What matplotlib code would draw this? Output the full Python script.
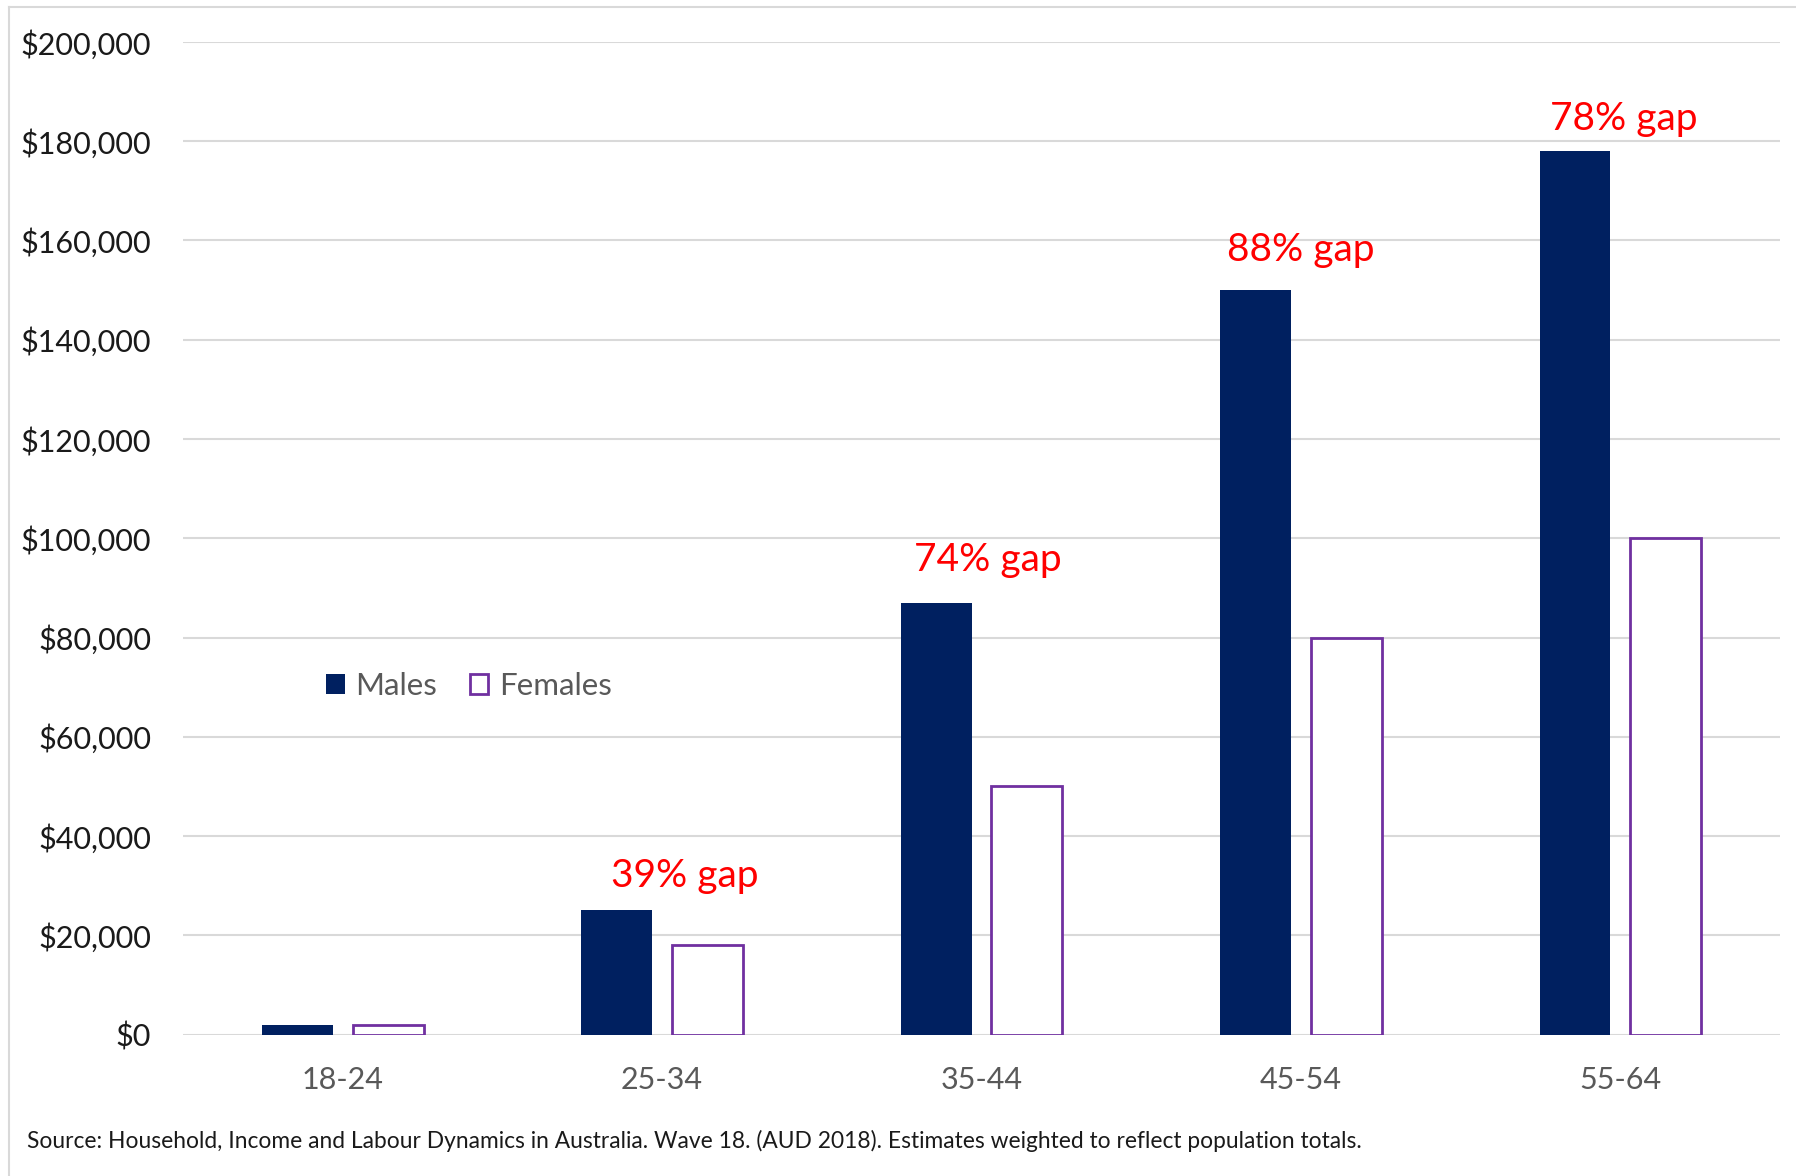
"""
Superannuation balances by age group and sex, with the male/female gap.
"""

import matplotlib.pyplot as plt
import numpy as np
from matplotlib.lines import Line2D
from matplotlib.patches import Patch
from matplotlib.ticker import FuncFormatter

plt.rcParams["font.family"] = ["Lato", "DejaVu Sans"]

# Data
age_groups = ["18-24", "25-34", "35-44", "45-54", "55-64"]
males = [2000, 25000, 87000, 150000, 178000]
females = [2000, 18000, 50000, 80000, 100000]
gap_labels = ["", "39% gap", "74% gap", "88% gap", "78% gap"]
source_note = (
    "Source: Household, Income and Labour Dynamics in Australia. Wave 18. "
    "(AUD 2018). Estimates weighted to reflect population totals."
)

navy = "#002060"
purple = "#7030A0"
grid_grey = "#d9d9d9"

fig = plt.figure(figsize=(17.96, 11.76), dpi=100)
ax = fig.add_axes([0.1019, 0.1203, 0.8892, 0.844])

x = np.arange(len(age_groups))
width = 0.222
offset = 0.142

ax.bar(x - offset, males, width, color=navy, zorder=3, label="Males")
ax.bar(x + offset, females, width, facecolor="white", edgecolor=purple,
       linewidth=2.0, zorder=3, label="Females")

# gap labels sit just above the male bar
label_dx = [0, 0.07, 0.02, 0.0, 0.01]
label_dy = [0, 4800, 6500, 5800, 4200]
for i, txt in enumerate(gap_labels):
    if not txt:
        continue
    ax.text(x[i] + label_dx[i], males[i] + label_dy[i], txt, color="#ff0000",
            fontsize=28, ha="center", va="baseline", zorder=4)

ax.set_xlim(-0.5, len(age_groups) - 0.5)
ax.set_ylim(0, 200000)
ax.set_yticks(np.arange(0, 200001, 20000))
ax.yaxis.set_major_formatter(FuncFormatter(lambda v, p: "${:,.0f}".format(v)))
ax.set_xticks(x)
ax.set_xticklabels(age_groups)

ax.grid(axis="y", color=grid_grey, linewidth=1.5, zorder=0)
ax.set_axisbelow(True)
for s in ax.spines.values():
    s.set_visible(False)
ax.tick_params(axis="y", length=0, pad=23, labelsize=22, labelcolor="#1a1a1a")
ax.tick_params(axis="x", length=0, pad=22.5, labelsize=22, labelcolor="#595959")

handles = [Patch(facecolor=navy, edgecolor=navy, linewidth=0),
           Patch(facecolor="white", edgecolor=purple, linewidth=2.0)]
leg = ax.legend(handles, ["Males", "Females"], loc="center left",
                bbox_to_anchor=(0.1815, 0.4165), bbox_transform=fig.transFigure,
                ncol=2, frameon=False, fontsize=22.5, handlelength=0.6,
                handleheight=0.6, handletextpad=0.33, columnspacing=1.05,
                borderpad=0, borderaxespad=0)
for t in leg.get_texts():
    t.set_color("#595959")

fig.text(0.0149, 0.0238, source_note, fontsize=16.4, color="#1a1a1a",
         ha="left", va="baseline")

# thin border round the chart area
fig.add_artist(Line2D([9 / 1796, 9 / 1796], [0, 1 - 7 / 1176],
                      transform=fig.transFigure, color=grid_grey, linewidth=1.5))
fig.add_artist(Line2D([9 / 1796, 1], [1 - 7 / 1176, 1 - 7 / 1176],
                      transform=fig.transFigure, color=grid_grey, linewidth=1.5))

fig.savefig("out.png", dpi=100, facecolor="white")
